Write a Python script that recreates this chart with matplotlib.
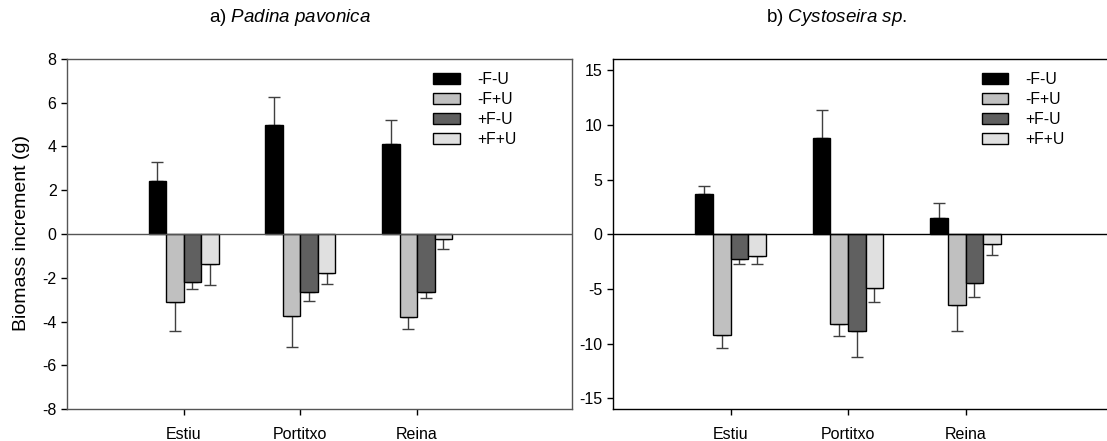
import matplotlib
matplotlib.use('Agg')
import numpy as np
import matplotlib.pyplot as plt

plt.rcParams['font.family'] = ['Liberation Sans', 'DejaVu Sans']
plt.rcParams['axes.unicode_minus'] = False
plt.rcParams['mathtext.fontset'] = 'custom'
plt.rcParams['mathtext.rm'] = 'Liberation Sans'
plt.rcParams['mathtext.it'] = 'Liberation Sans:italic'

# 数据
sites = ['Estiu', 'Portitxo', 'Reina']
treatments = ['-F-U', '-F+U', '+F-U', '+F+U']
colors = ['#000000', '#c0c0c0', '#606060', '#e0e0e0']

padina_mean = [[2.42, 4.96, 4.11],
               [-3.09, -3.73, -3.81],
               [-2.18, -2.63, -2.63],
               [-1.35, -1.78, -0.24]]
padina_err = [[0.88, 1.27, 1.10],
              [1.35, 1.43, 0.53],
              [0.32, 0.41, 0.28],
              [0.96, 0.50, 0.43]]

cysto_mean = [[3.72, 8.78, 1.46],
              [-9.21, -8.23, -6.43],
              [-2.29, -8.87, -4.48],
              [-2.01, -4.94, -0.91]]
cysto_err = [[0.70, 2.62, 1.38],
             [1.22, 1.04, 2.41],
             [0.45, 2.32, 1.25],
             [0.73, 1.22, 0.95]]

W, H = 1107, 441
fig = plt.figure(figsize=(W / 100, H / 100), dpi=100)

def draw_panel(ax, means, errs, ylim, yticks, line_col):
    x = np.arange(1, len(sites) + 1)
    width = 0.15
    for i, (m, e) in enumerate(zip(means, errs)):
        m = np.array(m)
        e = np.array(e)
        pos = x + (i - 1.5) * width
        lower = np.where(m < 0, e, 0)
        upper = np.where(m >= 0, e, 0)
        ax.bar(pos, m, width, color=colors[i], edgecolor='black', linewidth=1.0,
               label=treatments[i], zorder=2)
        ax.errorbar(pos, m, yerr=[lower, upper], fmt='none', ecolor='#404040',
                    elinewidth=1.0, capsize=4, capthick=1.0, zorder=1)
    ax.axhline(0, color=line_col, linewidth=1.0, zorder=3)
    ax.set_xlim(0, 4.33)
    ax.set_ylim(*ylim)
    ax.set_yticks(yticks)
    ax.set_xticks(x)
    ax.set_xticklabels(sites)
    ax.tick_params(direction='out', length=4, width=1, labelsize=11.5)
    ax.tick_params(axis='x', pad=9)
    for sp in ax.spines.values():
        sp.set_color(line_col)
        sp.set_linewidth(1.0)
    ax.legend(loc='upper left', frameon=False, fontsize=11.3, handlelength=1.7,
              handleheight=0.65, labelspacing=0.32, handletextpad=1.1,
              borderpad=0, borderaxespad=0)

ax1 = fig.add_axes([67 / W, 31.7 / H, 505.3 / W, 350.6 / H])
draw_panel(ax1, padina_mean, padina_err, (-8, 8), np.arange(-8, 9, 2), '#555555')
ax1.get_legend().set_bbox_to_anchor((433 / W, (H - 72) / H), transform=fig.transFigure)

ax2 = fig.add_axes([613 / W, 31.7 / H, 508.8 / W, 350 / H])
draw_panel(ax2, cysto_mean, cysto_err, (-16, 16), np.arange(-15, 16, 5), '#000000')
ax2.get_legend().set_bbox_to_anchor((981.7 / W, (H - 72) / H), transform=fig.transFigure)

fig.text(290 / W, (H - 18) / H, 'a) $\\it{Padina\\ pavonica}$', ha='center', va='center', fontsize=13.5)
fig.text(836 / W, (H - 18) / H, 'b) $\\it{Cystoseira\\ sp.}$', ha='center', va='center', fontsize=13.5)
fig.text(22 / W, (H - 233) / H, 'Biomass increment (g)', rotation=90, ha='center', va='center', fontsize=14)

fig.savefig('out.png', dpi=100)
